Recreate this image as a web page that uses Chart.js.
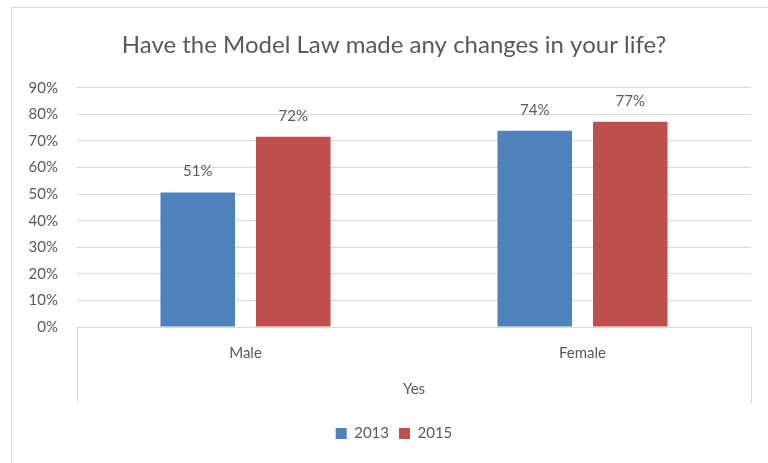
<!DOCTYPE html>
<html><head><meta charset="utf-8">
<script src="https://cdn.jsdelivr.net/npm/chart.js@4"></script>
<style>html,body{margin:0;padding:0;background:#fff;}</style>
</head><body>
<canvas id="c" width="768" height="463"></canvas>
<script>
const categories = ['Male', 'Female'];
const groupLabels = ['Yes'];
const seriesNames = ['2013', '2015'];
const values2013 = [50.6, 73.8];
const values2015 = [71.6, 77.2];
const yMax = 90;
const yStep = 10;

const FONT = 'Lato, "Open Sans", sans-serif';
const TXT = '#595959';
const GRID = '#D9D9D9';

const decor = {
  id: 'decor',
  beforeDraw(chart) {
    const ctx = chart.ctx;
    ctx.save();
    ctx.fillStyle = '#fff';
    ctx.fillRect(0, 0, chart.width, chart.height);
    ctx.strokeStyle = GRID;
    ctx.lineWidth = 1;
    ctx.strokeRect(11.5, 7.5, 800, 500);
    ctx.restore();
  },
  afterDraw(chart) {
    const ctx = chart.ctx;
    const a = chart.chartArea;
    ctx.save();
    ctx.strokeStyle = GRID;
    ctx.lineWidth = 1;
    ctx.beginPath();
    [a.left, a.right].forEach(x => {
      const px = Math.round(x) + 0.5;
      ctx.moveTo(px, a.bottom);
      ctx.lineTo(px, a.bottom + 76);
    });
    ctx.stroke();
    ctx.restore();
  }
};

const dataLabels = {
  id: 'dataLabels',
  afterDatasetsDraw(chart) {
    const ctx = chart.ctx;
    ctx.save();
    ctx.font = '15px ' + FONT;
    ctx.fillStyle = TXT;
    ctx.textAlign = 'center';
    ctx.textBaseline = 'middle';
    chart.data.datasets.forEach((ds, i) => {
      const meta = chart.getDatasetMeta(i);
      meta.data.forEach((el, j) => {
        ctx.fillText(Math.round(ds.data[j]) + '%', el.x, el.y - 21);
      });
    });
    ctx.restore();
  }
};

new Chart(document.getElementById('c'), {
  type: 'bar',
  data: {
    labels: categories,
    datasets: [
      { label: seriesNames[0], data: values2013, backgroundColor: '#4F81BD' },
      { label: seriesNames[1], data: values2015, backgroundColor: '#C0504D' }
    ]
  },
  options: {
    responsive: false,
    animation: false,
    devicePixelRatio: 1,
    categoryPercentage: 0.567,
    barPercentage: 0.78,
    layout: { padding: { left: 20, right: 0, top: 0, bottom: 12 } },
    plugins: {
      title: {
        display: true,
        text: 'Have the Model Law made any changes in your life?',
        color: TXT,
        font: { family: FONT, size: 24, weight: 'normal' },
        padding: { top: 31, bottom: 28 }
      },
      legend: {
        position: 'bottom',
        labels: {
          color: TXT,
          font: { family: FONT, size: 15 },
          boxWidth: 11,
          boxHeight: 11,
          padding: 10
        }
      },
      tooltip: { enabled: false }
    },
    scales: {
      x: {
        type: 'category',
        grid: { display: false },
        border: { display: false },
        ticks: { color: TXT, font: { family: FONT, size: 15 }, padding: 9 },
        afterFit(s) { s.height = 44; }
      },
      x2: {
        type: 'category',
        labels: groupLabels,
        position: 'bottom',
        weight: 1,
        grid: { display: false },
        border: { display: false },
        ticks: { color: TXT, font: { family: FONT, size: 15 }, padding: 1 },
        afterFit(s) { s.height = 45; }
      },
      y: {
        min: 0,
        max: yMax,
        ticks: {
          stepSize: yStep,
          color: TXT,
          font: { family: FONT, size: 15 },
          padding: 19,
          callback: v => v + '%'
        },
        grid: { color: GRID, drawTicks: false },
        border: { display: false },
        afterFit(s) { s.width = 57; }
      },
      y2: {
        position: 'right',
        display: true,
        grid: { display: false },
        border: { display: false },
        ticks: { display: false },
        afterFit(s) { s.width = 17; }
      }
    }
  },
  plugins: [decor, dataLabels]
});
</script>
</body></html>
